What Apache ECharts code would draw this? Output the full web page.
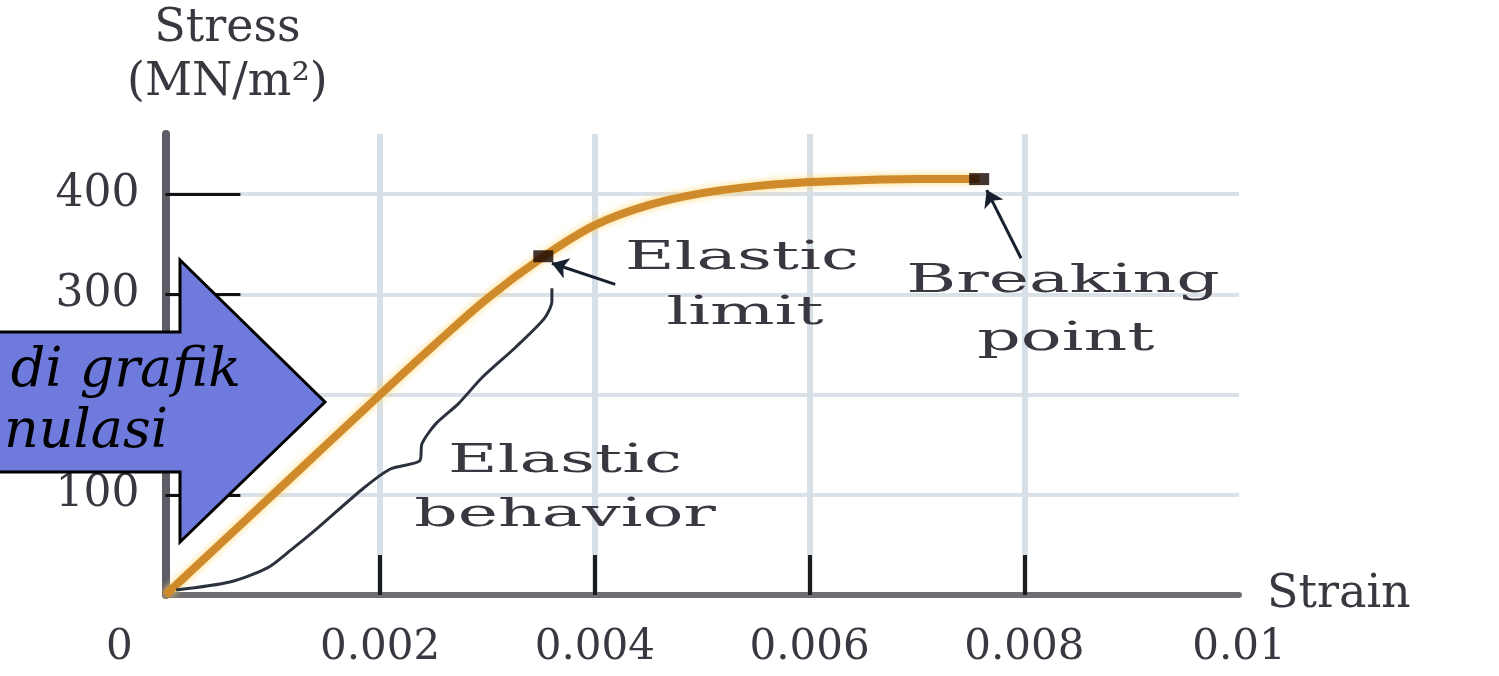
<!DOCTYPE html>
<html>
<head>
<meta charset="utf-8">
<script src="https://cdn.jsdelivr.net/npm/echarts@6.0.0/dist/echarts.min.js"></script>
<style>
html,body{margin:0;padding:0;background:#fff;}
#chart{width:1499px;height:676px;}
</style>
</head>
<body>
<div id="chart"></div>
<script>
// ---- data ----
const strainValues = [0, 0.0005, 0.001, 0.0015, 0.002, 0.0025, 0.003, 0.0035, 0.004, 0.0045, 0.005, 0.0055, 0.006, 0.0065, 0.007, 0.00758];
const stressValues = [0, 50, 100, 150, 200, 249, 296, 336, 369, 389, 401, 408, 412, 414, 415, 415];

const keyPointNames = ['Elastic limit', 'Breaking point'];
const keyStrain = [0.00352, 0.00758];
const keyStress = [338, 415];

// "Elastic behavior" brace drawn alongside the linear part
const braceStrain = [0.00010, 0.00060, 0.00095, 0.00117, 0.00142, 0.00185, 0.00210, 0.00237, 0.00239, 0.00252, 0.00273, 0.00295, 0.00326, 0.00353, 0.00360, 0.00360];
const braceStress = [5, 13, 27, 45, 67, 107, 126, 134, 151, 171, 191, 217, 247, 276, 293, 306];

// annotation arrows: [fromStrain, fromStress, toStrain, toStress]
const limitArrow = [0.00419, 310, 0.00360, 331];
const breakArrow = [0.00797, 336, 0.00765, 404];

const yTickValues = [100, 200, 300, 400];
const xTickValues = [0.002, 0.004, 0.006, 0.008];
const xLabelValues = [0, 0.002, 0.004, 0.006, 0.008, 0.01];
const xTickLabels = ['0', '0.002', '0.004', '0.006', '0.008', '0.01'];
const yTickLabels = ['100', '200', '300', '400'];

const xAxisName = 'Strain';
const yAxisName = ['Stress', '(MN/m²)'];

// ---- chart ----
const chart = echarts.init(document.getElementById('chart'), null, {renderer: 'canvas'});
const serif = '"DejaVu Serif", "Liberation Serif", serif';
const textColor = '#3a3740';

const curveData = strainValues.map((s, i) => [s, stressValues[i]]);
const keyData = keyStrain.map((s, i) => ({name: keyPointNames[i], value: [s, keyStress[i]]}));
const braceData = braceStrain.map((s, i) => [s, braceStress[i]]);

function xLabel(v) {
  const idx = Math.round(v / 0.002);
  const t = xTickLabels[idx] !== undefined ? xTickLabels[idx] : '';
  return idx === 0 ? '{z|' + t + '}' : t;
}
function yLabel(v) {
  const idx = yTickValues.indexOf(Math.round(v));
  return idx >= 0 ? yTickLabels[idx] : '';
}

const option = {
  backgroundColor: '#ffffff',
  animation: false,
  grid: {left: 162, right: 260, top: 134, bottom: 81, containLabel: false},
  xAxis: {
    type: 'value',
    min: 0, max: 0.01, interval: 0.002,
    name: xAxisName,
    nameLocation: 'end',
    nameGap: 28,
    nameTextStyle: {fontFamily: serif, fontSize: 46, color: textColor, verticalAlign: 'middle', padding: [8, 0, 0, 0]},
    axisLine: {show: true, onZero: false, lineStyle: {color: '#6e6e72', width: 6}},
    axisTick: {show: true, inside: true, length: 40, customValues: xTickValues, lineStyle: {color: '#1c1c1c', width: 4}},
    axisLabel: {
      show: true, margin: 32, customValues: xLabelValues,
      fontFamily: serif, fontSize: 42, color: textColor,
      formatter: xLabel,
      rich: {z: {fontFamily: serif, fontSize: 42, color: textColor, padding: [0, 92, 0, 0]}}
    },
    splitLine: {show: true, lineStyle: {color: '#d7dfe7', width: 6}}
  },
  yAxis: {
    type: 'value',
    min: 0, max: 460, interval: 100,
    name: yAxisName[0] + '\n' + yAxisName[1],
    nameLocation: 'end',
    nameGap: 24,
    nameTextStyle: {fontFamily: serif, fontSize: 46, lineHeight: 54, color: textColor, align: 'center', padding: [0, 0, 0, 124]},
    axisLine: {show: true, onZero: false, lineStyle: {color: '#5d5d68', width: 8}},
    axisTick: {show: true, inside: true, length: 75, customValues: yTickValues, lineStyle: {color: '#111111', width: 3}},
    axisLabel: {
      show: true, margin: 26, customValues: yTickValues,
      fontFamily: serif, fontSize: 44, color: textColor,
      formatter: yLabel
    },
    splitLine: {show: true, lineStyle: {color: '#dbe1e8', width: 4}}
  },
  series: [
    {
      name: 'Stress-strain curve',
      type: 'line',
      data: curveData,
      smooth: 0.35,
      showSymbol: false,
      symbol: 'none',
      lineStyle: {color: '#cf8a2c', width: 8, shadowColor: 'rgba(255,214,110,0.95)', shadowBlur: 7},
      z: 3
    },
    {
      name: 'Elastic behavior',
      type: 'line',
      data: braceData,
      smooth: 0.25,
      showSymbol: false,
      symbol: 'none',
      lineStyle: {color: '#2b323e', width: 3},
      z: 4,
      markLine: {
        silent: true,
        symbol: ['none', 'arrow'],
        symbolSize: 16,
        label: {show: false},
        lineStyle: {color: '#17202e', width: 3, type: 'solid'},
        data: [
          [{coord: [limitArrow[0], limitArrow[1]]}, {coord: [limitArrow[2], limitArrow[3]]}],
          [{coord: [breakArrow[0], breakArrow[1]]}, {coord: [breakArrow[2], breakArrow[3]]}]
        ]
      }
    },
    {
      name: 'Key points',
      type: 'scatter',
      data: keyData,
      symbol: 'rect',
      symbolSize: [20, 12],
      itemStyle: {color: '#140300'},
      z: 5
    }
  ],
  graphic: [
    {type: 'text', x: 742, y: 259, scaleX: 1.7, z: 50,
      style: {text: 'Elastic', font: '40px ' + serif, fill: textColor, align: 'center', verticalAlign: 'middle'}},
    {type: 'text', x: 745, y: 314, scaleX: 1.7, z: 50,
      style: {text: 'limit', font: '40px ' + serif, fill: textColor, align: 'center', verticalAlign: 'middle'}},
    {type: 'text', x: 1063, y: 282, scaleX: 1.7, z: 50,
      style: {text: 'Breaking', font: '40px ' + serif, fill: textColor, align: 'center', verticalAlign: 'middle'}},
    {type: 'text', x: 1066, y: 340, scaleX: 1.7, z: 50,
      style: {text: 'point', font: '40px ' + serif, fill: textColor, align: 'center', verticalAlign: 'middle'}},
    {type: 'text', x: 565, y: 462, scaleX: 1.7, z: 50,
      style: {text: 'Elastic', font: '40px ' + serif, fill: textColor, align: 'center', verticalAlign: 'middle'}},
    {type: 'text', x: 565, y: 516, scaleX: 1.7, z: 50,
      style: {text: 'behavior', font: '40px ' + serif, fill: textColor, align: 'center', verticalAlign: 'middle'}},
    {type: 'polygon', z: 100,
      shape: {points: [[-10, 332], [180, 332], [180, 260], [325, 402], [180, 542], [180, 472], [-10, 472]]},
      style: {fill: '#6f7bdc', stroke: '#000000', lineWidth: 3}},
    {type: 'text', x: 241, y: 372, z: 101,
      style: {text: 'di grafik', font: 'italic 54px ' + serif, fill: '#000000', align: 'right', verticalAlign: 'middle'}},
    {type: 'text', x: 168, y: 433, z: 101,
      style: {text: 'nulasi', font: 'italic 54px ' + serif, fill: '#000000', align: 'right', verticalAlign: 'middle'}}
  ]
};
chart.setOption(option);
</script>
</body>
</html>
